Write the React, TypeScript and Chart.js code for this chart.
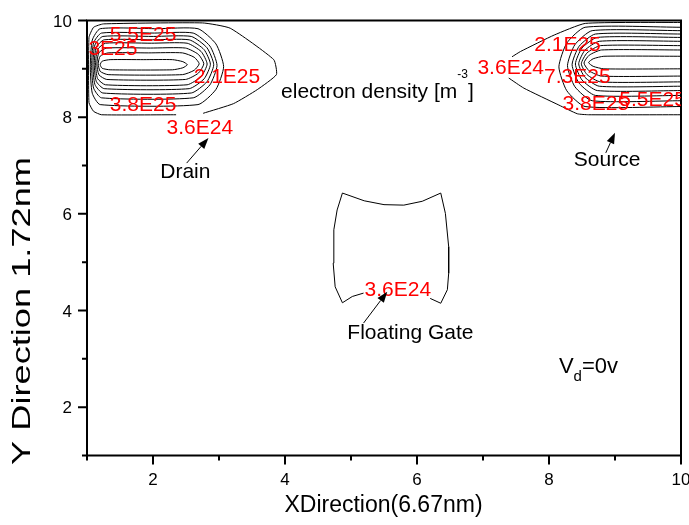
import { useEffect, useRef } from "react";
import { Chart, registerables } from "chart.js";

Chart.register(...registerables);

type Pt = [number, number];

// Axis ranges and ticks
const xRange: Pt = [1, 10];
const yRange: Pt = [1, 10];
const majorTicks = [2, 4, 6, 8, 10];
const minorTicks = [1, 3, 5, 7, 9];

// Drain region: outermost 3.6E24 contour (broken where its label sits)
const drainOuter: Pt[] = [
  [2.76, 8.08], [3.22, 8.28], [3.58, 8.57], [3.87, 8.88], [3.83, 9.19],
  [3.17, 9.84], [2.75, 9.95], [1.25, 9.93], [1.1, 9.86], [1.03, 9.65],
  [1.03, 8.3], [1.1, 8.12], [1.22, 8.05], [2.35, 8.05],
];
// Drain region: nested inner contours, outermost first
const drainTop = [9.83, 9.74, 9.67, 9.6, 9.53, 9.43, 9.33, 9.19];
const drainBottom = [8.26, 8.4, 8.5, 8.59, 8.67, 8.78, 8.88, 8.98];
const drainLeft = [1.05, 1.07, 1.09, 1.11, 1.13, 1.15, 1.17, 1.2];
const drainRight = [3.07, 2.97, 2.92, 2.87, 2.82, 2.77, 2.7, 2.52];

// Source region: outermost 3.6E24 contour, two pieces around its label
const sourceOuterUpper: Pt[] = [[10, 9.96], [8.55, 9.94], [8.08, 9.7], [7.57, 9.36], [7.44, 9.25]];
const sourceOuterLower: Pt[] = [[7.39, 8.81], [7.62, 8.6], [8.15, 8.25], [8.43, 8.07], [8.6, 8.05], [10, 8.05]];
// Source region: nested inner contours, outermost first
const sourceTop = [9.86, 9.79, 9.72, 9.65, 9.57, 9.48, 9.39, 9.26];
const sourceBottom = [8.22, 8.34, 8.45, 8.55, 8.64, 8.73, 8.85, 9.0];
const sourceLeft = [8.15, 8.28, 8.35, 8.4, 8.45, 8.49, 8.53, 8.6];

// Floating gate 3.6E24 contour
const gateOutline: Pt[] = [
  [5.19, 4.36], [5.02, 4.29], [4.87, 4.16], [4.76, 4.49], [4.73, 4.98],
  [4.74, 5.67], [4.79, 6.08], [4.87, 6.43], [5.2, 6.27], [5.5, 6.19],
  [5.8, 6.18], [6.08, 6.26], [6.36, 6.43], [6.43, 6.01], [6.48, 5.32],
  [6.48, 4.77], [6.46, 4.43], [6.36, 4.15], [6.2, 4.25],
];

// Contour level labels (centre x, baseline y)
const levelLabels = [
  { text: "5.5E25", x: 1.85, y: 9.58 },
  { text: "7.3E25", x: 1.26, y: 9.28 },
  { text: "2.1E25", x: 3.12, y: 8.71 },
  { text: "3.8E25", x: 1.85, y: 8.12 },
  { text: "3.6E24", x: 2.71, y: 7.66 },
  { text: "2.1E25", x: 8.28, y: 9.36 },
  { text: "3.6E24", x: 7.42, y: 8.9 },
  { text: "7.3E25", x: 8.43, y: 8.71 },
  { text: "3.8E25", x: 8.71, y: 8.15 },
  { text: "5.5E25", x: 9.57, y: 8.24 },
  { text: "3.6E24", x: 5.71, y: 4.3 },
];

// Region names (centre x, baseline y) and their pointer arrows
const regionNotes = [
  { text: "Drain", x: 2.49, y: 6.75 },
  { text: "Source", x: 8.88, y: 6.98 },
  { text: "Floating Gate", x: 5.9, y: 3.42 },
];
const arrows: { from: Pt; to: Pt }[] = [
  { from: [2.51, 7.05], to: [2.84, 7.57] },
  { from: [8.86, 7.26], to: [9.0, 7.68] },
  { from: [5.19, 3.74], to: [5.55, 4.39] },
];

const titleX = "XDirection(6.67nm)";
const titleY = "Y Direction 1.72nm";
const densityNote = { text: "electron density [m", sup: "-3", tail: "]", x: 3.94, y: 8.395 };
const biasNote = { main: "V", sub: "d", rest: "=0v", x: 8.15, y: 2.7 };

const FONT = '"Liberation Sans", Arial, Helvetica, sans-serif';

function drainLoop(k: number): Pt[] {
  const T = drainTop[k], B = drainBottom[k], L = drainLeft[k], R = drainRight[k];
  const h = T - B, m = (T + B) / 2, w = 0.2 + 0.12 * h;
  const mid = (L + R) / 2;
  return [
    [mid, T], [R - w, T], [R - 0.3 * w, T - 0.2 * h], [R, m], [R - 0.3 * w, B + 0.2 * h],
    [R - w, B], [L + 0.15, B], [L + 0.03, B + 0.15 * h], [L, m], [L + 0.03, T - 0.15 * h],
    [L + 0.15, T], [mid, T],
  ];
}

function sourceLoop(k: number): Pt[] {
  const T = sourceTop[k], B = sourceBottom[k], L = sourceLeft[k];
  const h = T - B, m = (T + B) / 2, w = 0.2 + 0.12 * h;
  return [
    [10, T], [L + w, T], [L + 0.3 * w, T - 0.2 * h], [L, m],
    [L + 0.3 * w, B + 0.2 * h], [L + w, B], [10, B],
  ];
}

const overlay = {
  id: "overlay",
  afterDatasetsDraw(chart: any) {
    const { ctx, chartArea: a, scales } = chart;
    const sx = (v: number) => scales.x.getPixelForValue(v);
    const sy = (v: number) => scales.y.getPixelForValue(v);
    ctx.save();

    // frame
    ctx.strokeStyle = "#000";
    ctx.lineWidth = 2;
    ctx.strokeRect(a.left, a.top, a.right - a.left, a.bottom - a.top);

    // ticks
    ctx.beginPath();
    for (const v of majorTicks) {
      ctx.moveTo(sx(v), a.bottom); ctx.lineTo(sx(v), a.bottom + 9);
      ctx.moveTo(a.left, sy(v)); ctx.lineTo(a.left - 9, sy(v));
    }
    for (const v of minorTicks) {
      ctx.moveTo(sx(v), a.bottom); ctx.lineTo(sx(v), a.bottom + 5);
      ctx.moveTo(a.left, sy(v)); ctx.lineTo(a.left - 5, sy(v));
    }
    ctx.stroke();

    // tick labels
    ctx.fillStyle = "#000";
    ctx.font = `17px ${FONT}`;
    ctx.textBaseline = "alphabetic";
    ctx.textAlign = "center";
    for (const v of majorTicks) ctx.fillText(String(v), sx(v), a.bottom + 29.5);
    ctx.textAlign = "right";
    for (const v of majorTicks) ctx.fillText(String(v), a.left - 15, sy(v) + 6);

    // axis titles
    ctx.font = `23px ${FONT}`;
    ctx.textAlign = "center";
    ctx.fillText(titleX, (a.left + a.right) / 2 - 0.5, 512);
    ctx.save();
    ctx.translate(30, 311);
    ctx.rotate(-Math.PI / 2);
    ctx.font = `25px ${FONT}`;
    const natural = ctx.measureText(titleY).width;
    ctx.scale(308 / natural, 1);
    ctx.fillText(titleY, 0, 0);
    ctx.restore();

    // contour level labels, clipped to the plot area
    ctx.save();
    ctx.beginPath();
    ctx.rect(a.left, a.top, a.right - a.left, a.bottom - a.top);
    ctx.clip();
    ctx.fillStyle = "#ff0000";
    ctx.font = `21px ${FONT}`;
    ctx.textAlign = "center";
    for (const l of levelLabels) ctx.fillText(l.text, sx(l.x), sy(l.y));
    ctx.restore();

    // region names
    ctx.fillStyle = "#000";
    ctx.font = `21px ${FONT}`;
    ctx.textAlign = "center";
    for (const n of regionNotes) ctx.fillText(n.text, sx(n.x), sy(n.y));

    // arrows
    ctx.lineWidth = 1;
    for (const ar of arrows) {
      const x0 = sx(ar.from[0]), y0 = sy(ar.from[1]);
      const x1 = sx(ar.to[0]), y1 = sy(ar.to[1]);
      const ang = Math.atan2(y1 - y0, x1 - x0);
      const hl = 11, hw = 4;
      const bx = x1 - hl * Math.cos(ang), by = y1 - hl * Math.sin(ang);
      ctx.beginPath();
      ctx.moveTo(x0, y0); ctx.lineTo(bx, by);
      ctx.stroke();
      ctx.beginPath();
      ctx.moveTo(x1, y1);
      ctx.lineTo(bx + hw * Math.sin(ang), by - hw * Math.cos(ang));
      ctx.lineTo(bx - hw * Math.sin(ang), by + hw * Math.cos(ang));
      ctx.closePath();
      ctx.fill();
    }

    // electron density note with superscript
    ctx.textAlign = "left";
    ctx.font = `21px ${FONT}`;
    let tx = sx(densityNote.x);
    const ty = sy(densityNote.y);
    ctx.fillText(densityNote.text, tx, ty);
    tx += ctx.measureText(densityNote.text).width;
    ctx.font = `12px ${FONT}`;
    ctx.fillText(densityNote.sup, tx, ty - 20);
    tx += ctx.measureText(densityNote.sup).width;
    ctx.font = `21px ${FONT}`;
    ctx.fillText(densityNote.tail, tx, ty);

    // bias note with subscript
    ctx.font = `22px ${FONT}`;
    let bx = sx(biasNote.x);
    const by = sy(biasNote.y);
    ctx.fillText(biasNote.main, bx, by);
    bx += ctx.measureText(biasNote.main).width;
    ctx.font = `15px ${FONT}`;
    ctx.fillText(biasNote.sub, bx, by + 8);
    bx += ctx.measureText(biasNote.sub).width;
    ctx.font = `22px ${FONT}`;
    ctx.fillText(biasNote.rest, bx, by);

    ctx.restore();
  },
};

export default function App() {
  const ref = useRef<HTMLCanvasElement>(null);

  useEffect(() => {
    const canvas = ref.current;
    if (!canvas) return;

    const lines: { pts: Pt[]; smooth: number }[] = [
      { pts: drainOuter, smooth: 0.15 },
      ...drainTop.map((_, k) => ({ pts: drainLoop(k), smooth: 0.2 })),
      { pts: sourceOuterUpper, smooth: 0.15 },
      { pts: sourceOuterLower, smooth: 0.15 },
      ...sourceTop.map((_, k) => ({ pts: sourceLoop(k), smooth: 0.2 })),
      { pts: gateOutline, smooth: 0 },
    ];

    const chart = new Chart(canvas, {
      type: "scatter",
      data: {
        datasets: lines.map((l) => ({
          data: l.pts.map(([x, y]) => ({ x, y })),
          showLine: true,
          borderColor: "#000",
          borderWidth: 1,
          pointRadius: 0,
          tension: l.smooth,
          fill: false,
        })),
      },
      options: {
        animation: false,
        responsive: false,
        events: [],
        layout: { padding: { left: 87, right: 8, top: 20.5, bottom: 69.5 } },
        scales: {
          x: { type: "linear", min: xRange[0], max: xRange[1], display: false },
          y: { type: "linear", min: yRange[0], max: yRange[1], display: false },
        },
        plugins: { legend: { display: false }, tooltip: { enabled: false } },
      },
      plugins: [overlay],
    });

    return () => chart.destroy();
  }, []);

  return (
    <div style={{ position: "absolute", left: 0, top: 0, width: 689, height: 525, background: "#fff" }}>
      <canvas ref={ref} width={689} height={525} style={{ display: "block" }} />
    </div>
  );
}
